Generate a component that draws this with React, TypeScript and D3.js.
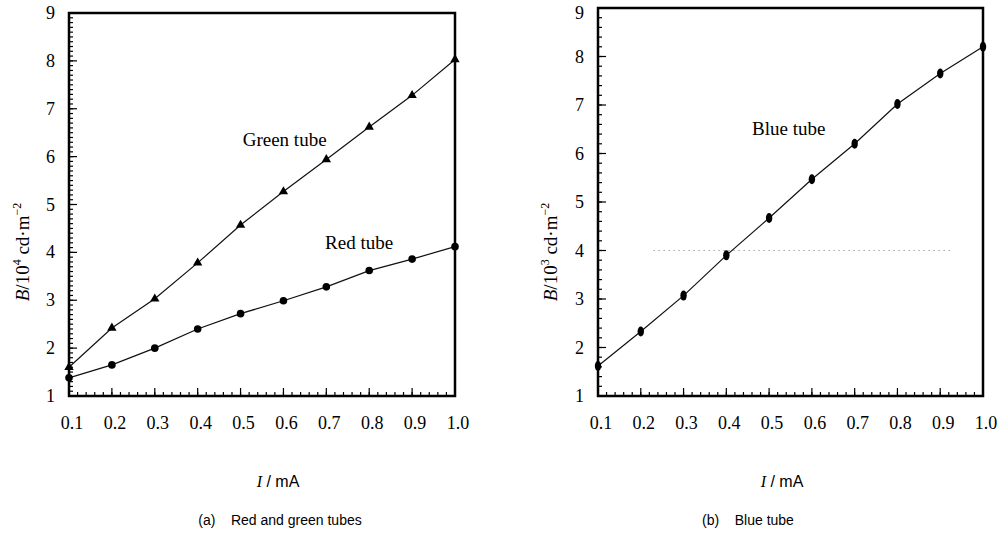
import * as d3 from 'd3';
import { useEffect, useRef } from 'react';

// current (mA), shared by both panels
const currents = [0.1, 0.2, 0.3, 0.4, 0.5, 0.6, 0.7, 0.8, 0.9, 1.0];
// brightness
const greenTube = [1.6, 2.42, 3.03, 3.78, 4.57, 5.27, 5.94, 6.62, 7.28, 8.03];
const redTube = [1.38, 1.65, 2.0, 2.4, 2.72, 2.99, 3.28, 3.62, 3.86, 4.12];
const blueTube = [1.62, 2.33, 3.07, 3.9, 4.67, 5.47, 6.2, 7.02, 7.65, 8.2];

const xTicks = [0.1, 0.2, 0.3, 0.4, 0.5, 0.6, 0.7, 0.8, 0.9, 1.0];
const yTicks = [1, 2, 3, 4, 5, 6, 7, 8, 9];

const serif = "'Liberation Serif', 'Times New Roman', serif";
const narrow = "'Liberation Sans Narrow', 'Liberation Sans', Arial, sans-serif";

function drawPanel(svg, opts) {
  const { left, right, top, bottom, yMinorStep, series, labels, yExp, xLabelX, captionX, caption, gridY } = opts;
  const g = svg.append('g');

  const x = d3.scaleLinear().domain([0.1, 1.0]).range([left, right]);
  const y = d3.scaleLinear().domain([1, 9]).range([bottom, top]);

  if (gridY != null) {
    g.append('line')
      .attr('x1', x(0.23)).attr('x2', x(0.93))
      .attr('y1', y(gridY)).attr('y2', y(gridY))
      .attr('stroke', '#777')
      .attr('stroke-width', 1)
      .attr('stroke-dasharray', '1 4');
  }

  // minor ticks
  const xMinor = d3.range(0.1, 1.0001, 0.02);
  g.selectAll('.xminor').data(xMinor).enter().append('line')
    .attr('x1', (d) => x(d)).attr('x2', (d) => x(d))
    .attr('y1', bottom).attr('y2', bottom - 4)
    .attr('stroke', '#000').attr('stroke-width', 1.2);
  g.selectAll('.xmajor').data(xTicks).enter().append('line')
    .attr('x1', (d) => x(d)).attr('x2', (d) => x(d))
    .attr('y1', bottom).attr('y2', bottom - 8)
    .attr('stroke', '#000').attr('stroke-width', 1.2);

  const yMinor = d3.range(1, 9.0001, yMinorStep);
  g.selectAll('.yminor').data(yMinor).enter().append('line')
    .attr('x1', left).attr('x2', left + 4)
    .attr('y1', (d) => y(d)).attr('y2', (d) => y(d))
    .attr('stroke', '#000').attr('stroke-width', 1.2);
  g.selectAll('.ymajor').data(yTicks).enter().append('line')
    .attr('x1', left).attr('x2', left + 8)
    .attr('y1', (d) => y(d)).attr('y2', (d) => y(d))
    .attr('stroke', '#000').attr('stroke-width', 1.2);

  // frame
  g.append('rect')
    .attr('x', left).attr('y', top)
    .attr('width', right - left).attr('height', bottom - top)
    .attr('fill', 'none').attr('stroke', '#000').attr('stroke-width', 2.5);

  // tick labels
  g.selectAll('.xl').data(xTicks).enter().append('text')
    .attr('x', (d) => x(d) + 3).attr('y', bottom + 33)
    .attr('text-anchor', 'middle')
    .style('font-family', serif).style('font-size', '18px')
    .text((d) => d.toFixed(1));
  g.selectAll('.yl').data(yTicks).enter().append('text')
    .attr('x', left - 14).attr('y', (d) => Math.max(y(d) + 6, 19))
    .attr('text-anchor', 'end')
    .style('font-family', serif).style('font-size', '18px')
    .text((d) => d);

  const line = d3.line().x((d) => x(d[0])).y((d) => y(d[1]));
  series.forEach((s) => {
    const pts = currents.map((c, i) => [c, s.values[i]]);
    g.append('path').datum(pts)
      .attr('d', line).attr('fill', 'none')
      .attr('stroke', '#111').attr('stroke-width', 1.2);
    if (s.marker === 'triangle') {
      const tri = d3.symbol().type(d3.symbolTriangle).size(38);
      g.selectAll(null).data(pts).enter().append('path')
        .attr('d', tri)
        .attr('transform', (d) => `translate(${x(d[0])},${y(d[1])})`)
        .attr('fill', '#000');
    } else if (s.marker === 'circle') {
      g.selectAll(null).data(pts).enter().append('circle')
        .attr('cx', (d) => x(d[0])).attr('cy', (d) => y(d[1]))
        .attr('r', 3.8).attr('fill', '#000');
    } else {
      g.selectAll(null).data(pts).enter().append('ellipse')
        .attr('cx', (d) => x(d[0])).attr('cy', (d) => y(d[1]))
        .attr('rx', 3.2).attr('ry', 5).attr('fill', '#000');
    }
  });

  labels.forEach((l) => {
    g.append('text')
      .attr('x', x(l.x)).attr('y', y(l.y))
      .style('font-family', serif).style('font-size', '19px')
      .text(l.text);
  });

  // y axis title
  const yt = g.append('text')
    .attr('transform', `translate(${opts.yTitleX},252) rotate(-90)`)
    .attr('text-anchor', 'middle')
    .style('font-family', serif).style('font-size', '19px');
  yt.append('tspan').style('font-style', 'italic').text('B');
  yt.append('tspan').text('/10');
  yt.append('tspan').style('font-size', '12px').attr('dy', -8).text(yExp);
  yt.append('tspan').attr('dy', 8).text(' cd·m');
  yt.append('tspan').style('font-size', '12px').attr('dy', -8).text('−2');

  // x axis title
  const xt = g.append('text')
    .attr('x', xLabelX).attr('y', 487)
    .attr('text-anchor', 'middle')
    .style('font-family', narrow).style('font-size', '16px');
  xt.append('tspan').style('font-family', serif).style('font-style', 'italic').text('I');
  xt.append('tspan').text(' / mA');

  g.append('text')
    .attr('x', captionX).attr('y', 525)
    .attr('text-anchor', 'middle')
    .style('font-family', narrow).style('font-size', '14px')
    .style('white-space', 'pre')
    .text(caption);
}

export default function App() {
  const ref = useRef(null);

  useEffect(() => {
    const svg = d3.select(ref.current);
    svg.selectAll('*').remove();
    svg.append('rect').attr('width', 1003).attr('height', 540).attr('fill', '#fff');

    drawPanel(svg, {
      left: 69, right: 455, top: 13, bottom: 396,
      yMinorStep: 0.1,
      series: [
        { values: greenTube, marker: 'triangle' },
        { values: redTube, marker: 'circle' }
      ],
      labels: [
        { text: 'Green tube', x: 0.505, y: 6.22 },
        { text: 'Red tube', x: 0.697, y: 4.07 }
      ],
      yExp: '4',
      yTitleX: 29,
      xLabelX: 278,
      captionX: 280,
      caption: '(a)    Red and green tubes'
    });

    drawPanel(svg, {
      left: 598, right: 983, top: 8, bottom: 396,
      yMinorStep: 0.2,
      series: [{ values: blueTube, marker: 'ellipse' }],
      labels: [{ text: 'Blue tube', x: 0.46, y: 6.38 }],
      yExp: '3',
      yTitleX: 557,
      xLabelX: 782,
      captionX: 748,
      caption: '(b)    Blue tube',
      gridY: 4
    });
  }, []);

  return (
    <svg
      ref={ref}
      width={1003}
      height={540}
      style={{ position: 'absolute', left: 0, top: 0 }}
    ></svg>
  );
}
